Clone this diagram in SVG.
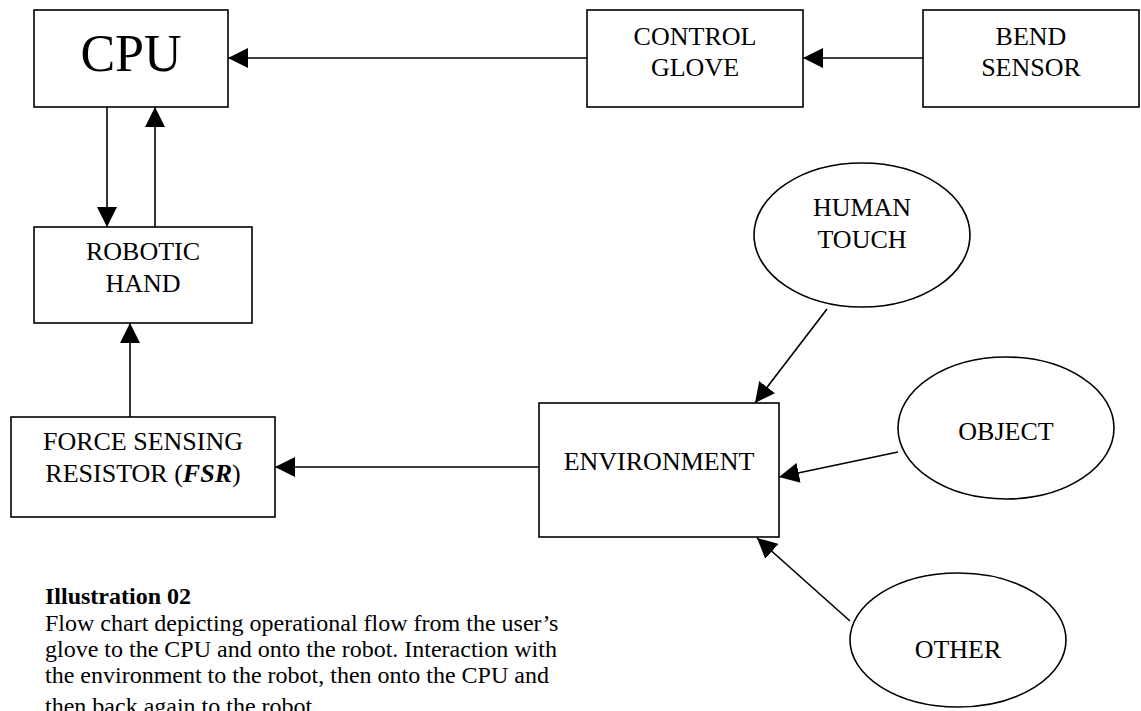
<svg xmlns="http://www.w3.org/2000/svg" width="1141" height="711" viewBox="0 0 1141 711">
<style>
.box{fill:#fff;stroke:#000;stroke-width:1.6}
.t{font-family:"Liberation Serif","Times New Roman",serif;font-size:26px;fill:#000;text-anchor:middle}
.cap{font-family:"Liberation Serif","Times New Roman",serif;font-size:24px;fill:#000}
.ln{stroke:#000;stroke-width:1.6;fill:none;marker-end:url(#ah)}
</style>
<defs>
<marker id="ah" markerWidth="20" markerHeight="20" refX="20" refY="10" orient="auto" markerUnits="userSpaceOnUse">
<path d="M0,0 L20,10 L0,20 Z" fill="#000"/>
</marker>
</defs>
<rect width="1141" height="711" fill="#fff"/>
<g id="connectors">
<line class="ln" x1="923" y1="58" x2="803" y2="58"/>
<line class="ln" x1="587" y1="58" x2="228" y2="58"/>
<line class="ln" x1="107" y1="107" x2="107" y2="227"/>
<line class="ln" x1="155" y1="227" x2="155" y2="107"/>
<line class="ln" x1="130" y1="417" x2="130" y2="323"/>
<line class="ln" x1="539" y1="467" x2="275" y2="467"/>
<line class="ln" x1="827" y1="309" x2="755" y2="403"/>
<line class="ln" x1="898" y1="452" x2="779" y2="477"/>
<line class="ln" x1="850" y1="621" x2="757" y2="538"/>
</g>
<g id="cpu">
<rect class="box" x="34" y="10" width="194" height="97"/>
<text class="t" x="131" y="71" style="font-size:52px">CPU</text>
</g>
<g id="control-glove">
<rect class="box" x="587" y="10" width="216" height="97"/>
<text class="t" x="695" y="45">CONTROL</text>
<text class="t" x="695" y="76">GLOVE</text>
</g>
<g id="bend-sensor">
<rect class="box" x="923" y="10" width="216" height="97"/>
<text class="t" x="1031" y="45">BEND</text>
<text class="t" x="1031" y="76">SENSOR</text>
</g>
<g id="robotic-hand">
<rect class="box" x="34" y="227" width="218" height="96"/>
<text class="t" x="143" y="260">ROBOTIC</text>
<text class="t" x="143" y="292">HAND</text>
</g>
<g id="fsr">
<rect class="box" x="11" y="417" width="264" height="100"/>
<text class="t" x="143" y="450">FORCE SENSING</text>
<text class="t" x="143" y="482">RESISTOR (<tspan font-weight="bold" font-style="italic">FSR</tspan>)</text>
</g>
<g id="environment">
<rect class="box" x="539" y="403" width="240" height="134"/>
<text class="t" x="659" y="470">ENVIRONMENT</text>
</g>
<g id="human-touch">
<ellipse class="box" cx="862" cy="235" rx="108" ry="72"/>
<text class="t" x="862" y="216">HUMAN</text>
<text class="t" x="862" y="248">TOUCH</text>
</g>
<g id="object">
<ellipse class="box" cx="1006" cy="428" rx="108" ry="71"/>
<text class="t" x="1006" y="440">OBJECT</text>
</g>
<g id="other">
<ellipse class="box" cx="958" cy="640" rx="108" ry="67"/>
<text class="t" x="958" y="658">OTHER</text>
</g>
<g id="caption">
<text class="cap" x="45" y="604" font-weight="bold">Illustration 02</text>
<text class="cap" x="45" y="631">Flow chart depicting operational flow from the user’s</text>
<text class="cap" x="45" y="657">glove to the CPU and onto the robot.  Interaction with</text>
<text class="cap" x="45" y="683">the environment to the robot, then onto the CPU and</text>
<text class="cap" x="45" y="714">then back again to the robot.</text>
</g>
</svg>
